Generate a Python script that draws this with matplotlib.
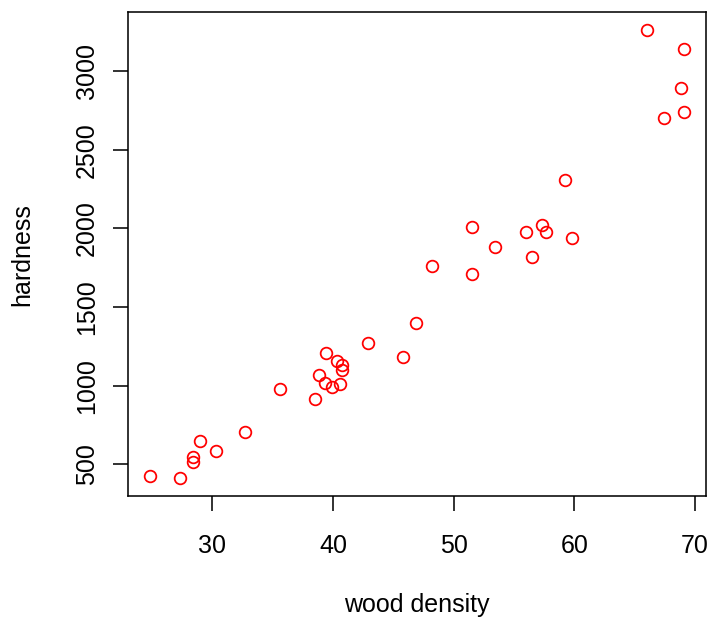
import matplotlib
matplotlib.use("Agg")
import matplotlib.pyplot as plt

density = [24.8, 27.3, 28.4, 28.4, 29.0, 30.3, 32.7, 35.6, 38.5, 38.8,
           39.3, 39.4, 39.9, 40.3, 40.6, 40.7, 40.7, 42.9, 45.8, 46.9,
           48.2, 51.5, 51.5, 53.4, 56.0, 56.5, 57.3, 57.6, 59.2, 59.8,
           66.0, 67.4, 68.8, 69.1, 69.1]
hardness = [427, 413, 517, 549, 648, 587, 704, 979, 914, 1070,
            1020, 1210, 989, 1160, 1010, 1100, 1130, 1270, 1180, 1400,
            1760, 1710, 2010, 1880, 1980, 1820, 2020, 1980, 2310, 1940,
            3260, 2700, 2890, 2740, 3140]
xticks = [30, 40, 50, 60, 70]
yticks = [500, 1000, 1500, 2000, 2500, 3000]

plt.rcParams['font.family'] = ['Liberation Sans', 'DejaVu Sans']
DPI = 150
fig = plt.figure(figsize=(714 / DPI, 621 / DPI), dpi=DPI)
W, H = 714, 621
l, r, t, b = 128.3, 705.7, 12.3, 496
ax = fig.add_axes([l / W, (H - b) / H, (r - l) / W, (b - t) / H])

ax.plot(density, hardness, linestyle='none', marker='o', markersize=5.6,
        markerfacecolor='none', markeredgecolor='#ff0000', markeredgewidth=0.85)

def rng(v):
    lo, hi = min(v), max(v)
    d = (hi - lo) * 0.04
    return lo - d, hi + d

ax.set_xlim(*rng(density))
ax.set_ylim(*rng(hardness))
ax.set_xticks(xticks)
ax.set_yticks(yticks)
for s in ax.spines.values():
    s.set_linewidth(0.75)
ax.tick_params(axis='both', direction='out', length=7.2, width=0.75, labelsize=12)
ax.tick_params(axis='x', pad=11.0)
ax.tick_params(axis='y', pad=7.0)
for lab in ax.get_yticklabels():
    lab.set_rotation(90)
    lab.set_va('center')

ax.set_xlabel('wood density', fontsize=12, va='center', ha='center')
ax.set_ylabel('hardness', fontsize=12, va='center', ha='center')
ax.xaxis.set_label_coords(0.5, (b - 605) / (b - t))
ax.yaxis.set_label_coords((22.5 - l) / (r - l), 0.5)

fig.savefig('out.png', dpi=DPI)
